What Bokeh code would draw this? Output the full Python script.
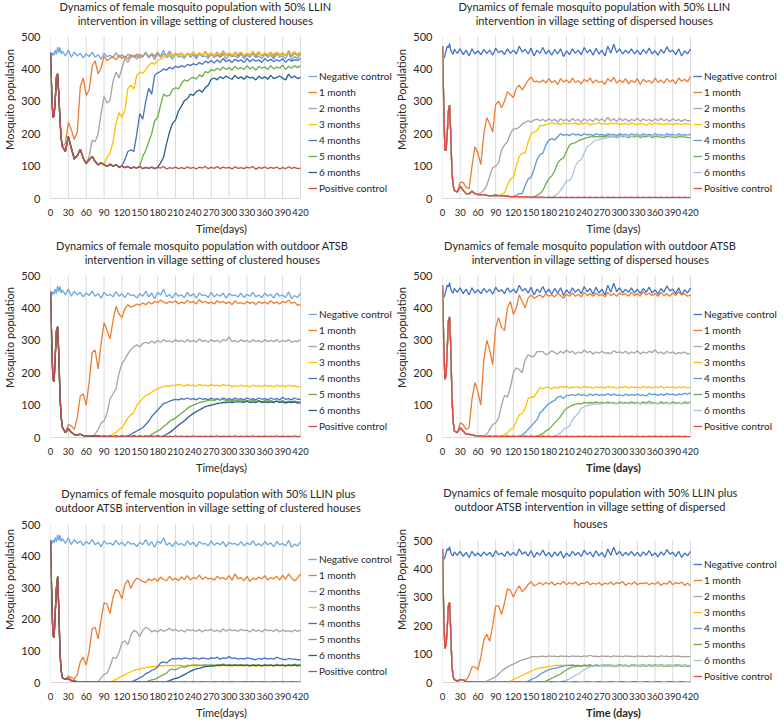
from bokeh.plotting import figure
from bokeh.layouts import column, row
from bokeh.models import Range1d, FixedTicker, Legend, LegendItem, Label
from bokeh.embed import file_html
from bokeh.resources import INLINE

FONT = "Lato"

# sample days: every 2 days up to 18, then every 5 days
DAYS = list(range(0, 20, 2)) + list(range(20, 421, 5))
XTICKS = [0, 30, 60, 90, 120, 150, 180, 210, 240, 270, 300, 330, 360, 390, 420]
YTICKS = [0, 100, 200, 300, 400, 500]
NAMES = ["Negative control", "1 month", "2 months", "3 months", "4 months",
         "5 months", "6 months", "Positive control"]

LEFT_COLORS = ["#6FA8DC", "#ED7D31", "#A5A5A5", "#FFC000", "#4472C4", "#70AD47", "#255E91", "#C0504D"]
RIGHT_COLORS = ["#4472C4", "#ED7D31", "#A5A5A5", "#FFC000", "#5B9BD5", "#70AD47", "#A9C4E6", "#E0473F"]

# ---------------- negative controls ----------------
NEG_CLUSTERED = [452, 438, 450, 442, 458, 445, 468, 450, 466, 446,
    455, 440, 458, 436, 452, 440, 448, 434, 446, 438,
    452, 436, 444, 430, 448, 438, 442, 434, 450, 436,
    444, 432, 446, 438, 440, 430, 444, 436, 452, 434,
    446, 428, 448, 440, 458, 434, 442, 430, 446, 436,
    440, 432, 448, 436, 444, 430, 446, 438, 440, 432,
    448, 434, 442, 436, 446, 430, 444, 438, 440, 434,
    446, 432, 442, 436, 448, 434, 440, 432, 446, 436,
    442, 430, 446, 436, 440, 432, 450, 428, 438, 432,
    446]
NEG_DISPERSED = [462, 432, 440, 456, 470, 465, 478, 458, 450, 445,
    460, 448, 462, 444, 458, 440, 462, 446, 456, 444,
    460, 448, 458, 442, 464, 450, 456, 444, 462, 448,
    458, 446, 470, 452, 460, 446, 464, 440, 458, 448,
    466, 446, 458, 442, 460, 446, 462, 438, 456, 444,
    462, 448, 458, 444, 466, 450, 460, 442, 464, 446,
    458, 440, 470, 448, 476, 450, 462, 446, 458, 448,
    462, 446, 458, 444, 460, 448, 464, 446, 456, 442,
    460, 448, 468, 452, 458, 444, 462, 440, 456, 446,
    462]

# ---------------- panel 1: 50% LLIN, clustered ----------------
P1_POS = [450, 330, 250, 255, 305, 375, 385, 320, 240, 185,
    160, 145, 192, 155, 122, 132, 152, 124, 108, 120,
    130, 114, 104, 110, 104, 99, 106, 100, 104, 97,
    100, 95, 99, 93, 97, 94, 99, 92, 96, 93,
    97, 92, 96, 94, 99, 91, 95, 93, 97, 92,
    95, 92, 98, 93, 96, 91, 97, 94, 99, 92,
    96, 93, 99, 92, 97, 94, 96, 91, 98, 93,
    95, 92, 97, 94, 99, 90, 96, 93, 98, 92,
    96, 93, 97, 91, 95, 92, 98, 93, 96, 92,
    94]
P1_M1 = [170, 235, 212, 182, 205, 345, 372, 318, 335,
    408, 425, 385, 402, 440, 425, 432, 438, 428, 442,
    432, 440, 430, 444, 436, 446, 434, 440, 448, 436,
    444, 438, 448, 436, 446, 440, 450, 438, 446, 440,
    448, 438, 446, 442, 450, 436, 448, 440, 452, 438,
    446, 440, 448, 436, 450, 442, 446, 438, 448, 440,
    450, 438, 446, 442, 448, 436, 450, 440, 446, 442,
    448, 436, 450, 440, 446, 442, 452, 438, 448, 440,
    446]
P1_M2 = [108, 130,
    180, 175, 200, 262, 315, 295, 302, 362, 390, 372,
    402, 432, 420, 436, 442, 438, 446, 440, 450, 438,
    448, 440, 452, 438, 446, 442, 456, 440, 448, 444,
    450, 440, 448, 444, 452, 438, 450, 442, 454, 440,
    448, 442, 452, 440, 456, 444, 450, 440, 452, 446,
    450, 440, 448, 444, 454, 440, 450, 442, 448, 444,
    452, 440, 450, 446, 448, 442, 456, 444, 450, 446,
    452]
P1_M3 = [104, 128, 140, 175, 230, 265,
    250, 272, 340, 350, 338, 380, 390, 386, 398, 410,
    420, 414, 426, 430, 436, 440, 446, 438, 444, 440,
    448, 440, 446, 442, 450, 444, 448, 442, 452, 444,
    450, 442, 448, 446, 452, 440, 450, 444, 448, 446,
    452, 442, 448, 444, 450, 446, 454, 442, 450, 444,
    448, 446, 452, 440, 450, 444, 448, 446, 454, 442,
    450]
P1_M4 = [100, 120, 145, 150, 145, 200, 262, 245, 300, 340,
    322, 380, 388, 392, 400, 396, 405, 400, 408, 404,
    410, 405, 414, 410, 416, 412, 420, 414, 424, 418,
    426, 418, 428, 420, 432, 422, 428, 420, 430, 424,
    428, 420, 432, 422, 430, 424, 428, 420, 432, 424,
    430, 422, 428, 424, 432, 420, 430, 424, 428, 426,
    432]
P1_M5 = [99, 130, 148, 175,
    200, 240, 250, 288, 322, 316, 318, 336, 342, 338,
    355, 366, 362, 370, 374, 368, 382, 376, 392, 388,
    398, 394, 402, 396, 406, 398, 404, 396, 408, 400,
    404, 398, 410, 400, 406, 396, 408, 402, 406, 398,
    410, 400, 406, 402, 412, 398, 408, 402, 410, 404,
    410]
P1_M6 = [96, 110, 128, 170, 205, 232, 242, 270,
    285, 302, 308, 322, 318, 330, 335, 328, 342, 350,
    368, 372, 366, 376, 370, 378, 372, 368, 380, 370,
    376, 368, 378, 372, 374, 366, 378, 370, 376, 368,
    380, 370, 374, 378, 372, 366, 384, 372, 378, 370,
    374]

# ---------------- panel 2: 50% LLIN, dispersed ----------------
P2_POS = [470, 300, 150, 148, 200, 270, 288, 200, 82, 40,
    25, 20, 38, 25, 15, 15, 22, 15, 12, 12,
    12, 10, 8, 9, 10, 9, 8, 8, 7, 6,
    6, 6, 5, 5, 5, 5, 4, 5, 4, 4,
    4, 3, 4, 3, 4, 3, 4, 3, 4, 3,
    4, 3, 4, 3, 4, 3, 4, 3, 4, 3,
    4, 3, 4, 3, 4, 3, 4, 3, 4, 3,
    4, 3, 4, 3, 4, 3, 4, 3, 4, 3,
    4, 3, 4, 3, 4, 3, 4, 3, 4, 3,
    4]
P2_M1 = [20, 50, 50, 35, 30, 100, 160, 140, 105,
    200, 250, 230, 205, 290, 300, 280, 300, 330, 320,
    312, 340, 350, 335, 350, 365, 375, 360, 362, 358,
    366, 356, 370, 358, 364, 352, 370, 360, 366, 356,
    372, 358, 364, 354, 368, 360, 372, 356, 366, 358,
    362, 352, 370, 360, 374, 356, 366, 358, 370, 354,
    364, 358, 370, 352, 368, 360, 364, 356, 372, 358,
    366, 356, 370, 360, 366, 354, 372, 362, 368, 360,
    376]
P2_M2 = [12, 18,
    25, 40, 70, 95, 100, 110, 150, 165, 175, 200,
    215, 215, 220, 230, 235, 240, 236, 242, 245, 240,
    244, 238, 246, 240, 244, 236, 246, 240, 244, 238,
    246, 240, 244, 236, 246, 240, 244, 238, 248, 240,
    246, 238, 250, 240, 246, 238, 248, 240, 246, 238,
    244, 240, 248, 238, 246, 240, 244, 238, 246, 240,
    248, 240, 244, 238, 246, 240, 244, 238, 244, 240,
    240]
P2_M3 = [9, 12, 18, 40, 60,
    65, 100, 130, 140, 140, 175, 200, 205, 210, 225,
    225, 228, 230, 234, 230, 232, 228, 234, 230, 232,
    230, 234, 228, 232, 230, 234, 226, 232, 230, 234,
    230, 232, 228, 234, 230, 232, 228, 230, 232, 228,
    234, 230, 228, 232, 230, 226, 232, 228, 234, 230,
    230, 228, 232, 230, 228, 232, 230, 228, 232, 230,
    228]
P2_M4 = [6, 10, 15, 15, 40, 60, 65, 90, 120, 135,
    140, 165, 180, 185, 180, 190, 200, 195, 198, 194,
    200, 196, 198, 194, 200, 196, 198, 194, 200, 196,
    198, 194, 200, 196, 198, 194, 200, 196, 198, 194,
    200, 196, 198, 194, 200, 196, 198, 194, 200, 196,
    198, 194, 200, 196, 198, 194, 200, 196, 198, 194,
    200]
P2_M5 = [5, 10, 15,
    25, 45, 60, 70, 85, 110, 120, 125, 145, 165,
    170, 172, 178, 182, 185, 188, 190, 190, 192, 190,
    192, 190, 194, 190, 192, 188, 194, 190, 192, 188,
    192, 190, 194, 188, 192, 190, 194, 188, 192, 190,
    190, 188, 192, 190, 190, 188, 192, 190, 190, 188,
    188]
P2_M6 = [4, 8, 15, 25, 40, 55, 55,
    70, 100, 115, 120, 140, 160, 165, 175, 180, 182,
    185, 186, 188, 190, 190, 192, 190, 194, 192, 194,
    192, 194, 196, 192, 194, 196, 192, 194, 196, 194,
    196, 194, 196, 192, 194, 196, 194, 196, 194, 196,
    195]

# ---------------- panel 3: outdoor ATSB, clustered ----------------
P3_POS = [450, 300, 180, 172, 250, 330, 342, 255, 125, 62,
    32, 15, 27, 16, 9, 8, 10, 6, 5, 5,
    4, 4, 5, 3, 4, 3, 4, 3, 4, 3,
    4, 3, 4, 3, 5, 3, 4, 3, 4, 3,
    4, 3, 5, 3, 4, 3, 4, 3, 5, 3,
    4, 3, 4, 3, 5, 3, 4, 3, 4, 3,
    4, 3, 5, 3, 4, 3, 4, 3, 5, 3,
    4, 3, 4, 3, 5, 3, 4, 3, 4, 3,
    4, 3, 5, 3, 4, 3, 4, 3, 5, 3,
    4]
P3_M1 = [15, 40, 36, 25, 62, 128, 135, 100, 172,
    262, 270, 212, 290, 355, 330, 305, 360, 405, 382,
    370, 398, 410, 402, 406, 412, 408, 415, 410, 418,
    412, 420, 416, 424, 418, 414, 420, 416, 422, 412,
    418, 414, 424, 416, 420, 412, 426, 416, 420, 414,
    418, 412, 422, 416, 420, 414, 418, 410, 422, 414,
    416, 412, 420, 414, 418, 410, 420, 414, 418, 412,
    422, 414, 418, 412, 420, 416, 424, 414, 418, 408,
    410]
P3_M2 = [4, 10, 25, 45, 52, 75, 118, 135, 150, 198,
    228, 242, 258, 272, 280, 286, 280, 290, 294, 290,
    298, 292, 300, 294, 302, 296, 298, 294, 302, 296,
    300, 294, 302, 296, 300, 294, 304, 296, 300, 294,
    302, 296, 300, 294, 302, 298, 310, 296, 300, 294,
    302, 296, 300, 294, 302, 296, 300, 294, 302, 296,
    300, 296, 302, 294, 300, 296, 302, 294, 298, 296,
    302]
P3_M3 = [4, 10, 15, 25,
    30, 45, 60, 70, 76, 100, 110, 120, 130, 132,
    140, 146, 150, 155, 156, 160, 158, 162, 160, 164,
    162, 158, 164, 160, 162, 158, 164, 160, 162, 158,
    164, 160, 162, 158, 164, 160, 162, 156, 160, 158,
    162, 158, 160, 156, 162, 158, 160, 156, 162, 158,
    160, 156, 162, 158, 160, 156, 162, 158, 160, 156,
    158]
P3_M4 = [4, 10, 15, 20, 25, 30, 40, 50,
    65, 75, 85, 95, 105, 108, 112, 115, 118, 116,
    120, 118, 122, 118, 120, 116, 122, 118, 120, 116,
    122, 118, 120, 116, 122, 118, 120, 116, 122, 118,
    120, 116, 122, 118, 120, 116, 122, 118, 120, 116,
    122, 118, 120, 116, 124, 118, 120, 116, 122, 118,
    118]
P3_M5 = [4,
    10, 15, 20, 25, 35, 40, 50, 55, 60, 68,
    75, 82, 90, 96, 100, 104, 108, 110, 112, 114,
    116, 114, 118, 116, 118, 114, 116, 112, 116, 114,
    116, 112, 114, 112, 116, 112, 114, 110, 114, 112,
    114, 110, 112, 110, 114, 110, 112, 110, 112, 110,
    110]
P3_M6 = [4, 10, 15, 22, 30, 38,
    45, 52, 60, 68, 75, 80, 85, 90, 95, 98,
    100, 102, 105, 106, 108, 108, 110, 108, 110, 110,
    110, 108, 112, 108, 110, 108, 112, 108, 110, 108,
    110, 108, 112, 108, 110, 106, 110, 108, 110, 106,
    108]

# ---------------- panel 4: outdoor ATSB, dispersed ----------------
P4_POS = [470, 300, 180, 190, 270, 360, 372, 280, 130, 50,
    20, 15, 30, 20, 10, 10, 8, 6, 5, 4,
    4, 3, 4, 3, 4, 3, 4, 3, 4, 3,
    4, 3, 4, 3, 4, 3, 4, 3, 4, 3,
    4, 3, 4, 3, 4, 3, 4, 3, 4, 3,
    4, 3, 4, 3, 4, 3, 4, 3, 4, 3,
    4, 3, 4, 3, 4, 3, 4, 3, 4, 3,
    4, 3, 4, 3, 4, 3, 4, 3, 4, 3,
    4, 3, 4, 3, 4, 3, 4, 3, 4, 3,
    3]
P4_M1 = [15, 45, 40, 25, 30, 120, 170, 140, 100,
    240, 300, 270, 225, 340, 370, 340, 330, 400, 420,
    380, 400, 440, 420, 400, 430, 440, 430, 435, 440,
    432, 444, 436, 440, 434, 446, 438, 430, 442, 436,
    446, 436, 442, 434, 448, 438, 444, 436, 446, 438,
    442, 434, 448, 438, 444, 436, 446, 440, 444, 436,
    448, 438, 444, 436, 450, 440, 446, 438, 444, 436,
    448, 438, 444, 436, 446, 438, 450, 440, 444, 436,
    440]
P4_M2 = [4, 10, 25, 40, 45, 60, 100, 130, 125, 155,
    200, 215, 210, 200, 240, 255, 250, 250, 265, 265,
    265, 255, 260, 268, 262, 258, 266, 260, 270, 262,
    266, 258, 264, 260, 270, 262, 266, 258, 264, 260,
    266, 260, 262, 258, 268, 262, 264, 260, 266, 258,
    264, 260, 268, 258, 264, 260, 266, 262, 270, 260,
    264, 258, 266, 260, 264, 258, 262, 260, 264, 258,
    260]
P4_M3 = [4, 8, 15, 25,
    30, 50, 70, 75, 90, 120, 125, 125, 140, 155,
    150, 155, 155, 150, 156, 152, 158, 154, 158, 152,
    156, 154, 156, 152, 158, 154, 156, 152, 156, 154,
    156, 152, 158, 154, 156, 152, 156, 154, 158, 152,
    156, 154, 156, 152, 158, 154, 156, 152, 156, 154,
    158, 152, 156, 154, 156, 152, 156, 154, 156, 152,
    156]
P4_M4 = [3, 8, 15, 25, 35, 45, 55, 75,
    85, 95, 105, 110, 115, 125, 128, 120, 130, 130,
    132, 130, 134, 130, 132, 128, 134, 130, 134, 130,
    132, 130, 136, 130, 134, 130, 132, 128, 134, 130,
    132, 130, 134, 130, 132, 128, 136, 132, 134, 130,
    134, 130, 136, 132, 134, 130, 134, 132, 136, 134,
    138]
P4_M5 = [4, 8,
    12, 20, 25, 35, 45, 55, 65, 80, 90, 95,
    100, 102, 105, 104, 108, 106, 108, 106, 110, 106,
    108, 106, 110, 106, 108, 104, 110, 106, 108, 106,
    110, 106, 108, 104, 110, 106, 112, 106, 108, 104,
    110, 106, 108, 104, 110, 106, 108, 104, 110, 106,
    110]
P4_M6 = [4, 8, 15, 25, 30, 35,
    55, 65, 75, 90, 95, 98, 100, 102, 104, 105,
    104, 106, 104, 106, 105, 104, 106, 104, 106, 104,
    106, 104, 106, 104, 106, 104, 106, 104, 106, 104,
    106, 104, 106, 104, 106, 104, 106, 104, 106, 104,
    108]

# ---------------- panel 5: 50% LLIN + ATSB, clustered ----------------
P5_POS = [450, 280, 150, 142, 222, 300, 335, 230, 92, 36,
    15, 10, 13, 6, 4, 3, 3, 2, 2, 2,
    2, 3, 2, 2, 3, 2, 2, 3, 2, 2,
    2, 3, 2, 2, 3, 2, 2, 3, 2, 2,
    2, 3, 2, 2, 3, 2, 2, 3, 2, 2,
    2, 3, 2, 2, 3, 2, 2, 3, 2, 2,
    2, 3, 2, 2, 3, 2, 2, 3, 2, 2,
    2, 3, 2, 2, 3, 2, 2, 3, 2, 2,
    2, 3, 2, 2, 3, 2, 2, 3, 2, 2,
    2]
P5_M1 = [10, 20, 16, 10, 25, 65, 80, 55, 100,
    170, 175, 138, 200, 252, 248, 218, 270, 295, 288,
    265, 310, 325, 298, 318, 330, 326, 320, 316, 328,
    322, 330, 320, 334, 326, 322, 336, 324, 330, 322,
    334, 326, 338, 324, 332, 328, 340, 326, 334, 328,
    330, 324, 336, 328, 332, 326, 338, 324, 344, 328,
    332, 322, 336, 320, 330, 326, 334, 328, 338, 324,
    332, 328, 336, 324, 340, 326, 344, 330, 322, 330,
    344]
P5_M2 = [2, 15, 25, 30, 50, 80, 75, 95,
    125, 132, 120, 150, 165, 160, 145, 165, 175, 170,
    160, 165, 160, 168, 162, 166, 172, 164, 168, 162,
    166, 160, 168, 164, 166, 162, 168, 160, 166, 164,
    168, 162, 166, 160, 170, 162, 168, 164, 166, 162,
    168, 164, 166, 160, 168, 162, 166, 160, 168, 164,
    166, 162, 168, 160, 166, 162, 164, 160, 166, 162,
    166]
P5_M3 = [2, 5, 10, 15,
    20, 25, 30, 34, 38, 41, 43, 45, 47, 49,
    50, 51, 52, 53, 53, 54, 53, 54, 53, 55,
    54, 52, 55, 53, 54, 52, 55, 53, 54, 52,
    55, 53, 54, 52, 55, 53, 54, 52, 55, 53,
    54, 52, 55, 53, 54, 50, 55, 53, 54, 52,
    55, 53, 58, 52, 55, 53, 54, 52, 55, 53,
    56]
P5_M4 = [2, 5, 10, 15, 20, 28, 32,
    38, 42, 50, 62, 65, 62, 70, 76, 74, 76,
    74, 78, 76, 74, 78, 76, 74, 78, 76, 74,
    78, 76, 80, 74, 78, 76, 82, 76, 78, 74,
    76, 74, 78, 76, 74, 72, 76, 74, 78, 74,
    76, 74, 80, 76, 74, 72, 76, 74, 74, 72,
    72]
P5_M5 = [2, 5,
    8, 10, 15, 20, 25, 30, 40, 42, 40, 45,
    50, 48, 52, 54, 55, 56, 54, 55, 56, 55,
    56, 54, 56, 55, 58, 54, 56, 54, 56, 55,
    56, 54, 55, 53, 56, 54, 55, 53, 56, 54,
    55, 53, 56, 54, 55, 53, 56, 54, 58, 55,
    57]
P5_M6 = [2, 3, 6, 10, 13, 15,
    20, 25, 30, 35, 40, 43, 45, 48, 50, 51,
    52, 53, 54, 55, 55, 54, 55, 54, 55, 54,
    55, 54, 55, 53, 55, 54, 55, 53, 55, 54,
    55, 53, 55, 54, 55, 53, 55, 54, 55, 53,
    54]

# ---------------- panel 6: 50% LLIN + ATSB, dispersed ----------------
P6_POS = [470, 250, 120, 130, 190, 270, 282, 180, 60, 20,
    10, 5, 10, 8, 4, 3, 3, 2, 2, 2,
    2, 1, 2, 3, 2, 1, 2, 3, 2, 1,
    2, 3, 2, 1, 2, 3, 2, 1, 2, 3,
    2, 1, 2, 3, 2, 1, 2, 3, 2, 1,
    2, 3, 2, 1, 2, 3, 2, 1, 2, 3,
    2, 1, 2, 3, 2, 1, 2, 3, 2, 1,
    2, 3, 2, 1, 2, 3, 2, 1, 2, 3,
    2, 1, 2, 3, 2, 1, 2, 3, 2, 1,
    2]
P6_M1 = [10, 10, 8, 25, 55, 55, 45, 90,
    150, 170, 145, 200, 270, 270, 240, 280, 330, 325,
    300, 325, 340, 320, 330, 345, 355, 340, 345, 352,
    344, 352, 346, 354, 342, 350, 346, 356, 344, 352,
    346, 354, 342, 350, 348, 356, 344, 350, 346, 352,
    342, 350, 346, 354, 344, 352, 348, 356, 342, 350,
    346, 354, 344, 350, 348, 352, 344, 350, 346, 354,
    342, 350, 346, 358, 344, 352, 348, 354, 342, 350,
    340]
P6_M2 = [2, 5, 10, 15, 20, 30, 40, 48, 55, 60,
    65, 70, 75, 80, 82, 86, 90, 92, 90, 92,
    93, 90, 94, 92, 93, 90, 94, 92, 93, 90,
    94, 92, 93, 90, 94, 92, 96, 92, 93, 90,
    94, 92, 93, 90, 94, 92, 93, 90, 94, 92,
    93, 90, 94, 92, 93, 90, 94, 92, 93, 90,
    94, 92, 93, 90, 94, 92, 93, 90, 92, 90,
    92]
P6_M3 = [2, 5,
    10, 15, 20, 25, 30, 35, 40, 45, 48, 52,
    52, 55, 57, 58, 60, 60, 61, 60, 60, 60,
    61, 59, 60, 58, 61, 59, 60, 58, 61, 59,
    60, 58, 61, 59, 60, 57, 61, 59, 60, 58,
    61, 59, 60, 58, 62, 59, 60, 58, 61, 59,
    60, 58, 61, 57, 60, 59, 61, 58, 60, 59,
    60]
P6_M4 = [2, 5, 10, 15, 20, 28,
    35, 40, 45, 48, 50, 52, 55, 58, 60, 60,
    61, 59, 60, 58, 61, 59, 62, 58, 61, 59,
    60, 62, 59, 61, 58, 60, 62, 59, 61, 58,
    60, 62, 59, 61, 60, 58, 62, 60, 61, 59,
    62, 60, 58, 61, 59, 62, 60, 58, 61, 59,
    58]
P6_M5 = [2, 5, 10, 15, 20, 25, 30, 38, 45, 50,
    55, 56, 58, 58, 60, 59, 60, 58, 61, 59,
    60, 58, 61, 59, 60, 58, 61, 59, 60, 58,
    61, 59, 60, 58, 61, 59, 60, 58, 61, 59,
    60, 58, 61, 59, 60, 58, 61, 59, 60, 58,
    60]
P6_M6 = [2, 5, 8, 12,
    20, 25, 30, 38, 45, 50, 55, 57, 58, 58,
    59, 60, 58, 61, 59, 60, 58, 61, 59, 60,
    58, 61, 59, 60, 58, 61, 59, 60, 58, 61,
    59, 60, 58, 61, 59, 60, 58, 61, 59, 60,
    60]

# day on which each duration leaves the positive-control curve
BRANCH = {
    "P1": [25, 60, 90, 120, 150, 180],
    "P2": [25, 60, 95, 120, 155, 185],
    "P3": [25, 70, 100, 130, 165, 190],
    "P4": [25, 70, 100, 130, 160, 190],
    "P5": [25, 80, 100, 135, 160, 190],
    "P6": [30, 70, 110, 140, 170, 200],
}

TITLES = {
    "P1": ["Dynamics of female mosquito population with 50% LLIN",
           "intervention in village setting of clustered houses"],
    "P2": ["Dynamics of female mosquito population with 50% LLIN",
           "intervention in village setting of dispersed houses"],
    "P3": ["Dynamics of female mosquito population with outdoor ATSB",
           "intervention in village setting of clustered houses"],
    "P4": ["Dynamics of female mosquito population with outdoor ATSB",
           "intervention in village setting of dispersed houses"],
    "P5": ["Dynamics of female mosquito population with 50% LLIN plus",
           "outdoor ATSB intervention in village setting of clustered houses"],
    "P6": ["Dynamics of female mosquito population with 50% LLIN plus",
           "outdoor ATSB intervention in village setting of dispersed",
           "houses"],
}

LEFT_B = 42      # room for the y axis
FRAME_W = 342    # frame = plot area + legend column
TEXT = "#262626"


def full_series(pos, start, vals):
    i = DAYS.index(start)
    ys = pos[:i] + vals
    return ys[:len(DAYS)]


def make_panel(key, neg, pos, months, colors, ylab, xlab, xbold,
               top_area, plot_h, bottom, plot_w, title_cx, title_dy, leg_gap, leg_y):
    frame_h = top_area + plot_h
    x_end = XTICKS[-1] * FRAME_W / plot_w
    y_end = YTICKS[-1] * frame_h / plot_h
    p = figure(frame_width=FRAME_W, frame_height=frame_h, title=None,
               x_range=Range1d(0, x_end), y_range=Range1d(0, y_end),
               output_backend="svg", toolbar_location=None,
               min_border_left=LEFT_B, min_border_right=0,
               min_border_top=0, min_border_bottom=bottom)
    p.outline_line_color = None
    p.xgrid.visible = False
    p.ygrid.visible = False
    p.xaxis.ticker = FixedTicker(ticks=XTICKS)
    p.yaxis.ticker = FixedTicker(ticks=YTICKS)
    p.xaxis.bounds = (XTICKS[0], XTICKS[-1])
    p.yaxis.bounds = (YTICKS[0], YTICKS[-1])
    for ax in (p.xaxis[0], p.yaxis[0]):
        ax.major_tick_line_color = None
        ax.minor_tick_line_color = None
        ax.major_label_text_font = FONT
        ax.major_label_text_color = TEXT
        ax.axis_label_text_font = FONT
        ax.axis_label_text_font_size = "11px"
        ax.axis_label_text_color = TEXT
    p.xaxis.major_label_text_font_size = "9.5px"
    p.yaxis.major_label_text_font_size = "11px"
    p.xaxis.axis_line_color = "#D9D9D9"
    p.yaxis.axis_line_color = None
    p.xaxis.axis_label = xlab
    p.xaxis.axis_label_text_font_style = "bold" if xbold else "normal"
    p.yaxis.axis_label = ylab
    p.yaxis.axis_label_text_font_style = "normal"
    p.xaxis.major_label_standoff = 4
    p.xaxis.axis_label_standoff = 3
    p.yaxis.major_label_standoff = 4
    p.yaxis.axis_label_standoff = 2

    # vertical gridlines at the x ticks, spanning the value axis only
    p.segment(x0=XTICKS, y0=[YTICKS[0]] * len(XTICKS), x1=XTICKS,
              y1=[YTICKS[-1]] * len(XTICKS), line_color="#D9D9D9", line_width=1)

    ys_all = [neg]
    for start, vals in zip(BRANCH[key], months):
        ys_all.append(full_series(pos, start, vals))
    ys_all.append(pos)

    items = []
    for name, ys, c in zip(NAMES, ys_all, colors):
        r = p.line(DAYS[:len(ys)], ys, line_color=c, line_width=1.3)
        items.append(LegendItem(label=name, renderers=[r]))

    leg = Legend(items=items, location=(plot_w + leg_gap, leg_y), orientation="vertical",
                 label_text_font=FONT, label_text_font_size="10px",
                 label_text_color=TEXT, glyph_width=9, glyph_height=12,
                 label_height=12, label_standoff=2, spacing=4, padding=0,
                 margin=0, border_line_color=None, background_fill_alpha=0)
    p.add_layout(leg, "center")

    lines = TITLES[key]
    for k, t in enumerate(lines):
        y = plot_h + title_dy[k]
        p.add_layout(Label(x=title_cx, y=y, x_units="screen", y_units="screen",
                           text=t, text_align="center", text_baseline="middle",
                           text_font=FONT, text_font_size="11px",
                           text_color=TEXT))
    return p


p1 = make_panel("P1", NEG_CLUSTERED, P1_POS, [P1_M1, P1_M2, P1_M3, P1_M4, P1_M5, P1_M6],
                LEFT_COLORS, "Mosquito population", "Time(days)", False,
                36, 162, 38, 250, 145, [30, 16], 8, 4)
p2 = make_panel("P2", NEG_DISPERSED, P2_POS, [P2_M1, P2_M2, P2_M3, P2_M4, P2_M5, P2_M6],
                RIGHT_COLORS, "Mosquito Population", "Time (days)", False,
                36, 162, 38, 248, 152, [30, 16], 3, 4)
p3 = make_panel("P3", NEG_CLUSTERED, P3_POS, [P3_M1, P3_M2, P3_M3, P3_M4, P3_M5, P3_M6],
                LEFT_COLORS, "Mosquito population", "Time(days)", False,
                38, 162, 36, 250, 152, [30, 16], 8, 5)
p4 = make_panel("P4", NEG_DISPERSED, P4_POS, [P4_M1, P4_M2, P4_M3, P4_M4, P4_M5, P4_M6],
                RIGHT_COLORS, "Mosquito population", "Time (days)", True,
                38, 162, 36, 248, 148, [30, 16], 3, 5)
p5 = make_panel("P5", NEG_CLUSTERED, P5_POS, [P5_M1, P5_M2, P5_M3, P5_M4, P5_M5, P5_M6],
                LEFT_COLORS, "Mosquito population", "Time(days)", False,
                48, 158, 34, 250, 158, [31, 17], 8, 5)
p6 = make_panel("P6", NEG_DISPERSED, P6_POS, [P6_M1, P6_M2, P6_M3, P6_M4, P6_M5, P6_M6],
                RIGHT_COLORS, "Mosquito Population", "Time (days)", True,
                64, 142, 34, 248, 148, [48, 34, 17], 3, 0)

layout = column(row(p1, p2), row(p3, p4), row(p5, p6))
open("out.html", "w").write(file_html(layout, INLINE))
